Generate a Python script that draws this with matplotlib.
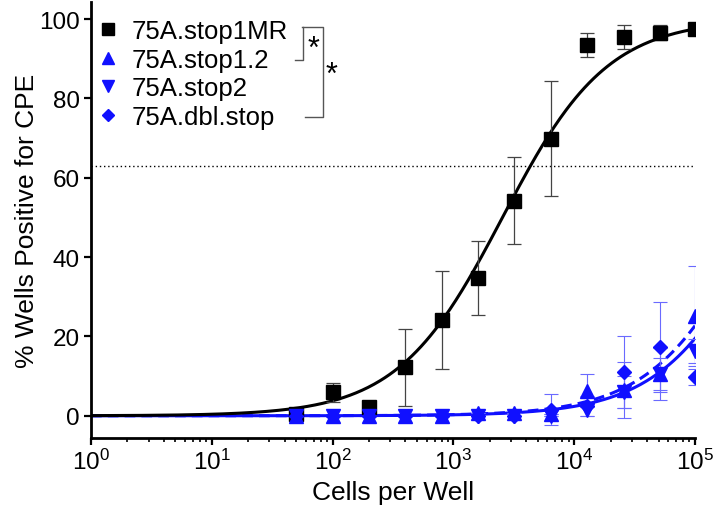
import numpy as np
import matplotlib
matplotlib.use('Agg')
import matplotlib.pyplot as plt
from matplotlib.lines import Line2D
from matplotlib.ticker import LogLocator, NullFormatter

plt.rcParams['font.family'] = ['Liberation Sans', 'DejaVu Sans']
plt.rcParams['mathtext.fontset'] = 'custom'
plt.rcParams['mathtext.rm'] = 'Liberation Sans'

# ---------------- data ----------------
cells = [50, 100, 200, 400, 800, 1600, 3200, 6400, 12800, 25600, 51200, 100000]

stop1MR = [0.4, 5.9, 2.1, 12.2, 24.2, 34.7, 54.2, 69.8, 93.4, 95.4, 96.6, 97.5]
stop1MR_err = [0, 2.3, 1.7, 9.7, 12.4, 9.3, 11.0, 14.5, 3.0, 3.0, 2.0, 1.0]

stop1_2 = [0, 0, 0, 0, 0, 0.8, 0.8, 0.5, 6.3, 6.5, 10.5, 25.2]
stop1_2_err = [0, 0, 0, 0, 0, 0, 0, 0, 4.2, 7.0, 6.5, 12.6]

stop2 = [0, 0, 0, 0, 0, 0, 0, 0, 1.5, 6.0, 10.5, 16.4]
stop2_err = [0, 0, 0, 0, 0, 0, 0, 0, 1.5, 4.0, 4.0, 3.0]

dbl_stop = [0, 0, 0, 0, 0, 0, 0, 1.5, 2.5, 11.0, 17.3, 9.8]
dbl_stop_err = [0, 0, 0, 0, 0, 0, 0, 3.9, 2.5, 9.0, 11.3, 2.0]

labels = ['75A.stop1MR', '75A.stop1.2', '75A.stop2', '75A.dbl.stop']

# fitted dose-response parameters (EC50, Hill slope)
fit_black = (2550.0, 1.0)
fit_blue_solid = (412800.0, 1.0)
fit_blue_dashed = (340500.0, 1.0)
threshold = 63.0

xlabel = 'Cells per Well'
ylabel = '% Wells Positive for CPE'


def hill(x, p):
    ec50, n = p
    return 100.0 * x ** n / (x ** n + ec50 ** n)


W, H = 722, 506
fig = plt.figure(figsize=(W / 100, H / 100), dpi=100)
ax = fig.add_axes([91 / W, 67 / H, (695 - 91) / W, 436 / H])

blue = '#1010ff'
ebblue = '#6a6aff'

xs = np.logspace(0, 5, 400)
ax.plot(xs, hill(xs, fit_blue_dashed), color=blue, lw=2.2, ls=(0, (3.5, 2)), zorder=2)
ax.plot(xs, hill(xs, fit_blue_solid), color=blue, lw=2.2, zorder=2)
ax.plot(xs, hill(xs, fit_black), color='black', lw=2.2, zorder=3)

ax.axhline(threshold, color='black', lw=1.0, ls=(0, (1, 2)), zorder=1)

ax.errorbar(cells, stop1MR, yerr=stop1MR_err, fmt='s', color='black', ms=9.5,
            ecolor='#444444', elinewidth=0.9, capsize=5, capthick=0.9, zorder=3.5)
ax.errorbar(cells, stop1_2, yerr=stop1_2_err, fmt='^', color=blue, ms=9.5,
            ecolor=ebblue, elinewidth=0.8, capsize=5, capthick=0.8, zorder=4)
ax.errorbar(cells, stop2, yerr=stop2_err, fmt='v', color=blue, ms=9.5,
            ecolor=ebblue, elinewidth=0.8, capsize=5, capthick=0.8, zorder=4)
ax.errorbar(cells, dbl_stop, yerr=dbl_stop_err, fmt='D', color=blue, ms=7.5,
            ecolor=ebblue, elinewidth=0.8, capsize=5, capthick=0.8, zorder=4)

ax.set_xscale('log')
ax.set_xlim(1, 1e5)
ax.set_ylim(-5.6, 104.3)
ax.set_yticks([0, 20, 40, 60, 80, 100])
ax.xaxis.set_major_locator(LogLocator(base=10, numticks=10))
ax.xaxis.set_minor_locator(LogLocator(base=10, subs=np.arange(2, 10), numticks=20))
ax.xaxis.set_minor_formatter(NullFormatter())

for s in ['top', 'right']:
    ax.spines[s].set_visible(False)
for s in ['left', 'bottom']:
    ax.spines[s].set_linewidth(2.0)

ax.tick_params(axis='both', which='major', direction='out', length=5, width=1.6,
               labelsize=17.5, pad=3)
ax.tick_params(axis='x', which='minor', direction='out', length=3, width=1.2)

ax.set_xlabel(xlabel, fontsize=19, labelpad=4)
ax.set_ylabel(ylabel, fontsize=19, labelpad=0)

handles = [
    Line2D([], [], ls='none', marker='s', color='black', ms=8),
    Line2D([], [], ls='none', marker='^', color=blue, ms=8),
    Line2D([], [], ls='none', marker='v', color=blue, ms=8),
    Line2D([], [], ls='none', marker='D', color=blue, ms=6.5),
]
leg = ax.legend(handles, labels, loc='upper left', bbox_to_anchor=(96 / W, 1 - 20 / H),
                bbox_transform=fig.transFigure, frameon=False, fontsize=18.5,
                handlelength=0.9, handletextpad=0.5, labelspacing=0.18, borderpad=0,
                borderaxespad=0)


def px(x, y):
    return x / W, 1 - y / H


def fline(xs_, ys_):
    pts = [px(a, b) for a, b in zip(xs_, ys_)]
    fig.add_artist(Line2D([p[0] for p in pts], [p[1] for p in pts],
                          transform=fig.transFigure, color='#555555', lw=1.0))


fline([302, 323, 323, 305], [28, 28, 118, 118])
fline([303, 303, 295], [28, 61, 61])
fig.text(*px(313, 50), '*', fontsize=22, ha='center', va='center')
fig.text(*px(331, 76), '*', fontsize=22, ha='center', va='center')

fig.savefig('out.png', dpi=100)
